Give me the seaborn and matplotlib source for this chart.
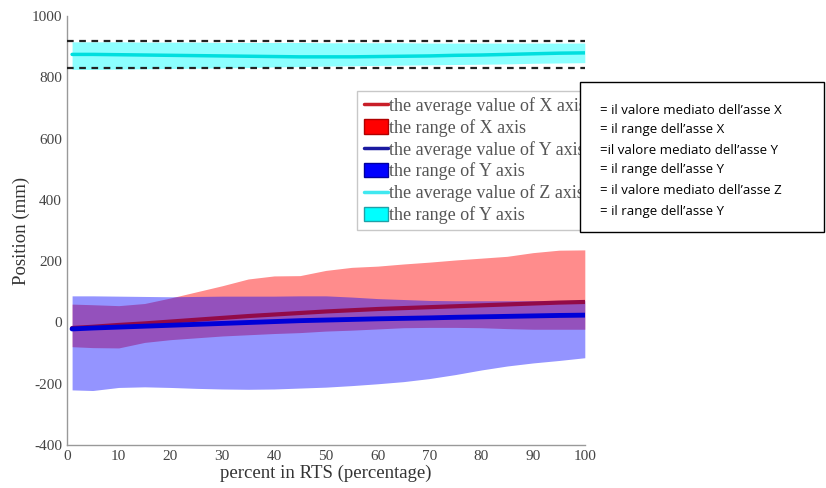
import numpy as np
import pandas as pd
import matplotlib
matplotlib.use("Agg")
import matplotlib.pyplot as plt
import seaborn as sns
from matplotlib.lines import Line2D
from matplotlib.patches import Patch, Rectangle

# percent in RTS (sample points)
pct = [1, 5, 10, 15, 20, 25, 30, 35, 40, 45, 50, 55, 60, 65, 70, 75, 80, 85, 90, 95, 100]

# X axis: mean and range (mm)
x_mean = [-18, -14, -8, -3, 3, 9, 15, 21, 26, 31, 36, 40, 44, 47, 50, 53, 56, 59, 62, 65, 67]
x_upper = [60, 58, 55, 62, 80, 100, 120, 142, 152, 153, 170, 180, 184, 191, 197, 204, 210, 216, 228, 236, 237]
x_lower = [-79, -82, -83, -65, -56, -50, -44, -40, -36, -33, -28, -25, -21, -17, -16, -16, -17, -20, -22, -22, -22]

# Y axis: mean and range (mm)
y_mean = [-21, -18, -15, -12, -9, -6, -3, 0, 3, 6, 8, 10, 12, 13.5, 15, 17, 18.5, 20, 21.5, 23, 24]
y_upper = [87, 87, 86, 85, 84, 85, 86, 86, 86, 87, 87, 83, 78, 75, 72, 71, 71, 71, 71, 71, 71]
y_lower = [-220, -222, -212, -210, -212, -215, -217, -218, -217, -214, -211, -206, -200, -193, -183, -170, -155, -142, -132, -124, -115]

# Z axis: mean and range (mm)
z_mean = [875, 875, 874, 873, 872, 871, 870, 869, 868, 867, 867, 867, 868, 869, 870, 872, 873, 875, 877, 879, 880]
z_upper = [916, 916, 916, 915, 915, 915, 914, 914, 914, 914, 913, 913, 913, 913, 912, 912, 912, 912, 912, 912, 912]
z_lower = [826, 826, 827, 828, 829, 830, 831, 832, 834, 835, 837, 838, 839, 840, 841, 842, 843, 844, 846, 847, 848]

z_limits = [920, 830]

legend_labels = [
    "the average value of X axis",
    "the range of X axis",
    "the average value of Y axis",
    "the range of Y axis",
    "the average value of Z axis",
    "the range of Y axis",
]

note_lines = [
    "= il valore mediato dell\u2019asse X",
    "= il range dell\u2019asse X",
    "=il valore mediato dell\u2019asse Y",
    "= il range dell\u2019asse Y",
    "= il valore mediato dell\u2019asse Z",
    "= il range dell\u2019asse Y",
]

df = pd.DataFrame({
    "pct": pct,
    "x_mean": x_mean, "y_mean": y_mean, "z_mean": z_mean,
})

sns.set_style("white")
plt.rcParams["font.family"] = ["Liberation Serif", "DejaVu Serif"]
plt.rcParams["axes.unicode_minus"] = False

fig = plt.figure(figsize=(8.26, 4.88), dpi=100)
ax = fig.add_axes([0.081, 0.088, 0.627, 0.879])

# Z band and mean
ax.fill_between(pct, z_lower, z_upper, color="cyan", alpha=0.45, linewidth=0, zorder=1)
sns.lineplot(data=df, x="pct", y="z_mean", color="#00dede", linewidth=2.5, ax=ax, zorder=2)
for lim in z_limits:
    ax.axhline(lim, color="#222222", linestyle=(0, (3, 2.5)), linewidth=1.6, zorder=3)

# X band (red), Y band laid over it (blue), then the means
ax.fill_between(pct, x_lower, x_upper, color="red", alpha=0.45, linewidth=0, zorder=1)
ax.fill_between(pct, y_lower, y_upper, color="blue", alpha=0.42, linewidth=0, zorder=1.6)
sns.lineplot(data=df, x="pct", y="x_mean", color="#920a48", linewidth=3, ax=ax, zorder=2)
sns.lineplot(data=df, x="pct", y="y_mean", color="#0000d8", linewidth=3.5, ax=ax, zorder=2.1)

ax.set_xlim(0, 100)
ax.set_ylim(-400, 1000)
ax.set_xticks(np.arange(0, 101, 10))
ax.set_yticks(np.arange(-400, 1001, 200))
ax.tick_params(direction="in", length=4, width=0.8, colors="#888888",
               labelcolor="#444444", labelsize=11)
for side in ["top", "right"]:
    ax.spines[side].set_visible(False)
for side in ["left", "bottom"]:
    ax.spines[side].set_color("#999999")
    ax.spines[side].set_linewidth(1.0)

ax.set_xlabel("percent in RTS (percentage)", fontsize=13.5, color="#333333", labelpad=1)
ax.set_ylabel("Position (mm)", fontsize=13.5, color="#333333", labelpad=1)

handles = [
    Line2D([], [], color="#c81e28", linewidth=2.5),
    Patch(facecolor="red", edgecolor="#b00000"),
    Line2D([], [], color="#1a1aa0", linewidth=2.5),
    Patch(facecolor="blue", edgecolor="#0000a0"),
    Line2D([], [], color="#40e8f0", linewidth=2.5),
    Patch(facecolor="cyan", edgecolor="#20a0a8"),
]
leg = ax.legend(handles, legend_labels, loc="upper left",
                bbox_to_anchor=(0.561, 0.826), fontsize=13, frameon=True,
                fancybox=False, edgecolor="#bbbbbb", handlelength=1.35,
                handleheight=0.85, handletextpad=0.05, labelspacing=0.22,
                borderpad=0.35, borderaxespad=0)
leg.set_zorder(5)
for t in leg.get_texts():
    t.set_color("#555555")

# white annotation box laid over the legend
fig.patches.append(Rectangle((0.702, 0.525), 0.296, 0.306, transform=fig.transFigure,
                             facecolor="white", edgecolor="black", linewidth=1.0,
                             zorder=10))
note_y = [110, 130, 150, 170, 190, 211]
for line, py in zip(note_lines, note_y):
    fig.text(0.726, 1 - py / 488, line, fontsize=9.5, va="center", ha="left",
             family=["Open Sans", "DejaVu Sans"], color="black", zorder=11)

fig.savefig("out.png", dpi=100)
